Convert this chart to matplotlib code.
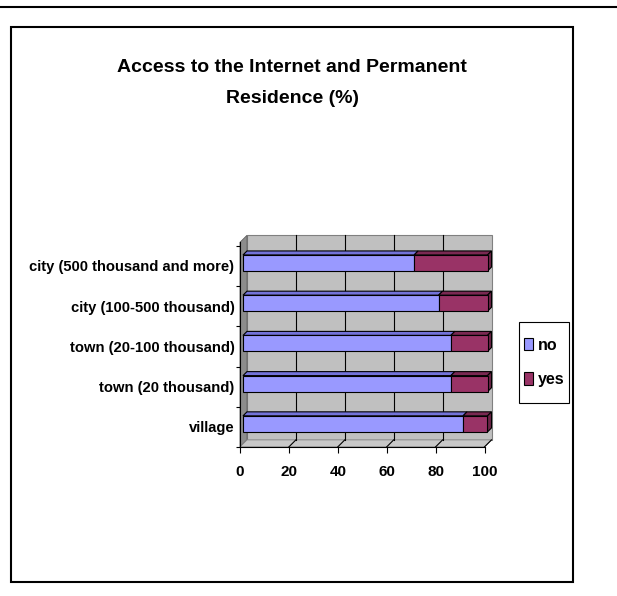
import matplotlib
matplotlib.use("Agg")
import matplotlib.pyplot as plt
from matplotlib.patches import Rectangle, Polygon, Patch
from matplotlib.lines import Line2D
from matplotlib.transforms import offset_copy

# ---- data ----
categories = ["village", "town (20 thousand)", "town (20-100 thousand)",
              "city (100-500 thousand)", "city (500 thousand and more)"]
no_values = [90, 85, 85, 80, 70]
yes_values = [10, 15, 15, 20, 30]
series_names = ["no", "yes"]
x_ticks = [0, 20, 40, 60, 80, 100]
title = "Access to the Internet and Permanent\nResidence (%)"

# ---- fonts ----
plt.rcParams["font.family"] = ["Liberation Sans", "DejaVu Sans"]
plt.rcParams["font.weight"] = "bold"

W, H = 617, 596
fig = plt.figure(figsize=(W / 100, H / 100), dpi=100)
fig.patch.set_facecolor("white")


def fx(px):
    return px / W


def fy(py):
    return 1 - py / H


# page rule and chart frame
fig.add_artist(Line2D([0, 1], [fy(6.7), fy(6.7)], transform=fig.transFigure,
                      color="black", lw=1.5))
fig.add_artist(Rectangle((fx(10.7), fy(582.3)), fx(572.7) - fx(10.7),
                         fy(26.7) - fy(582.3), transform=fig.transFigure,
                         fill=False, edgecolor="black", lw=1.5))

# front plane of the plot area
left_px, right_px, top_px, bottom_px = 240, 484.5, 242.3, 447
ax = fig.add_axes([fx(left_px), fy(bottom_px), fx(right_px) - fx(left_px),
                   fy(top_px) - fy(bottom_px)])
ax.patch.set_visible(False)
for s in ax.spines.values():
    s.set_visible(False)

ylo, yhi = -0.497, 4.589
ax.set_xlim(0, 100)
ax.set_ylim(ylo, yhi)

px_per_x = (right_px - left_px) / 100
px_per_y = (bottom_px - top_px) / (yhi - ylo)

DEPTH = 7            # wall depth in pixels
ddx, ddy = DEPTH / px_per_x, DEPTH / px_per_y

wall_c = "#C0C0C0"
side_c = "#8C8C8C"
floor_c = "#C8C8C8"

# back wall
ax.add_patch(Rectangle((ddx, ylo + ddy), 100, yhi - ylo, facecolor=wall_c,
                       edgecolor="#808080", lw=0.8, clip_on=False, zorder=0))
# side wall
ax.add_patch(Polygon([(0, ylo), (ddx, ylo + ddy), (ddx, yhi + ddy), (0, yhi)],
                     closed=True, facecolor=side_c, edgecolor="#606060",
                     lw=0.6, clip_on=False, zorder=0))
# floor
ax.add_patch(Polygon([(0, ylo), (100, ylo), (100 + ddx, ylo + ddy), (ddx, ylo + ddy)],
                     closed=True, facecolor=floor_c, edgecolor="#808080",
                     lw=0.6, clip_on=False, zorder=0))

# gridlines on the back wall and floor
for t in x_ticks[1:-1]:
    ax.add_line(Line2D([t + ddx, t + ddx], [ylo + ddy, yhi + ddy], color="black",
                       lw=0.8, clip_on=False, zorder=1))
for t in x_ticks[1:]:
    ax.add_line(Line2D([t, t + ddx], [ylo, ylo + ddy], color="black",
                       lw=0.8, clip_on=False, zorder=1))

# 3-D bars, pushed slightly back from the front plane
BAR_FRONT = 3        # pixels behind the front plane
BAR_DEPTH = 4        # pixels of bar thickness
bar_tr = offset_copy(ax.transData, fig=fig, x=BAR_FRONT, y=BAR_FRONT, units="dots")
bx, by = BAR_DEPTH / px_per_x, BAR_DEPTH / px_per_y
bar_h = 0.4
hh = bar_h / 2

face_colors = ["#9999FF", "#993366"]
top_colors = ["#7373D9", "#7A2952"]
side_colors = ["#6B6BB3", "#6B2447"]

ypos = list(range(len(categories)))
for i, yc in enumerate(ypos):
    segs = [(0, no_values[i]), (no_values[i], no_values[i] + yes_values[i])]
    for k, (l, r) in enumerate(segs):
        ax.add_patch(Polygon([(l, yc + hh), (r, yc + hh), (r + bx, yc + hh + by),
                              (l + bx, yc + hh + by)], closed=True,
                             facecolor=top_colors[k], edgecolor="black", lw=0.8,
                             transform=bar_tr, clip_on=False, zorder=2))
    r = segs[-1][1]
    ax.add_patch(Polygon([(r, yc - hh), (r + bx, yc - hh + by), (r + bx, yc + hh + by),
                          (r, yc + hh)], closed=True, facecolor=side_colors[1],
                         edgecolor="black", lw=0.8, transform=bar_tr,
                         clip_on=False, zorder=2))

b_no = ax.barh(ypos, no_values, height=bar_h, color=face_colors[0],
               edgecolor="black", lw=0.8, transform=bar_tr, zorder=3,
               clip_on=False, label=series_names[0])
b_yes = ax.barh(ypos, yes_values, left=no_values, height=bar_h,
                color=face_colors[1], edgecolor="black", lw=0.8,
                transform=bar_tr, zorder=3, clip_on=False, label=series_names[1])
ax.set_xlim(0, 100)
ax.set_ylim(ylo, yhi)

# axes lines
ax.add_line(Line2D([0, 0], [ylo, yhi], color="black", lw=0.8, clip_on=False, zorder=4))
ax.add_line(Line2D([0, 100], [ylo, ylo], color="black", lw=0.8, clip_on=False, zorder=4))

ax.set_xticks(x_ticks)
ax.set_xticklabels([str(t) for t in x_ticks], fontsize=11, fontweight="bold")
ax.tick_params(axis="x", direction="out", length=4.3, width=0.8, pad=9)

ax.set_yticks(ypos)
ax.set_yticklabels(categories, fontsize=10.6, fontweight="bold")
ax.tick_params(axis="y", which="major", length=0, pad=4)
ax.set_yticks([y - 0.5 for y in ypos] + [ypos[-1] + 0.5], minor=True)
ax.tick_params(axis="y", which="minor", direction="out", length=3, width=0.8)

# title
fig.text(fx(292), fy(83), title, ha="center", va="center", fontsize=14,
         fontweight="bold", linespacing=2.15)

# legend with its own frame box
fig.add_artist(Rectangle((fx(519), fy(403)), fx(569) - fx(519), fy(322) - fy(403),
                         transform=fig.transFigure, facecolor="white",
                         edgecolor="black", lw=0.8))
handles = [Patch(facecolor=face_colors[0], edgecolor="black", lw=0.8),
           Patch(facecolor=face_colors[1], edgecolor="black", lw=0.8)]
leg = fig.legend(handles, series_names, loc="center",
                 bbox_to_anchor=(fx(544), fy(362.5)), prop={"size": 11.5, "weight": "bold"},
                 frameon=False, handlelength=0.55, handleheight=0.8,
                 handletextpad=0.3, labelspacing=1.2, borderpad=0.3,
                 borderaxespad=0)

fig.savefig("out.png", dpi=100)
